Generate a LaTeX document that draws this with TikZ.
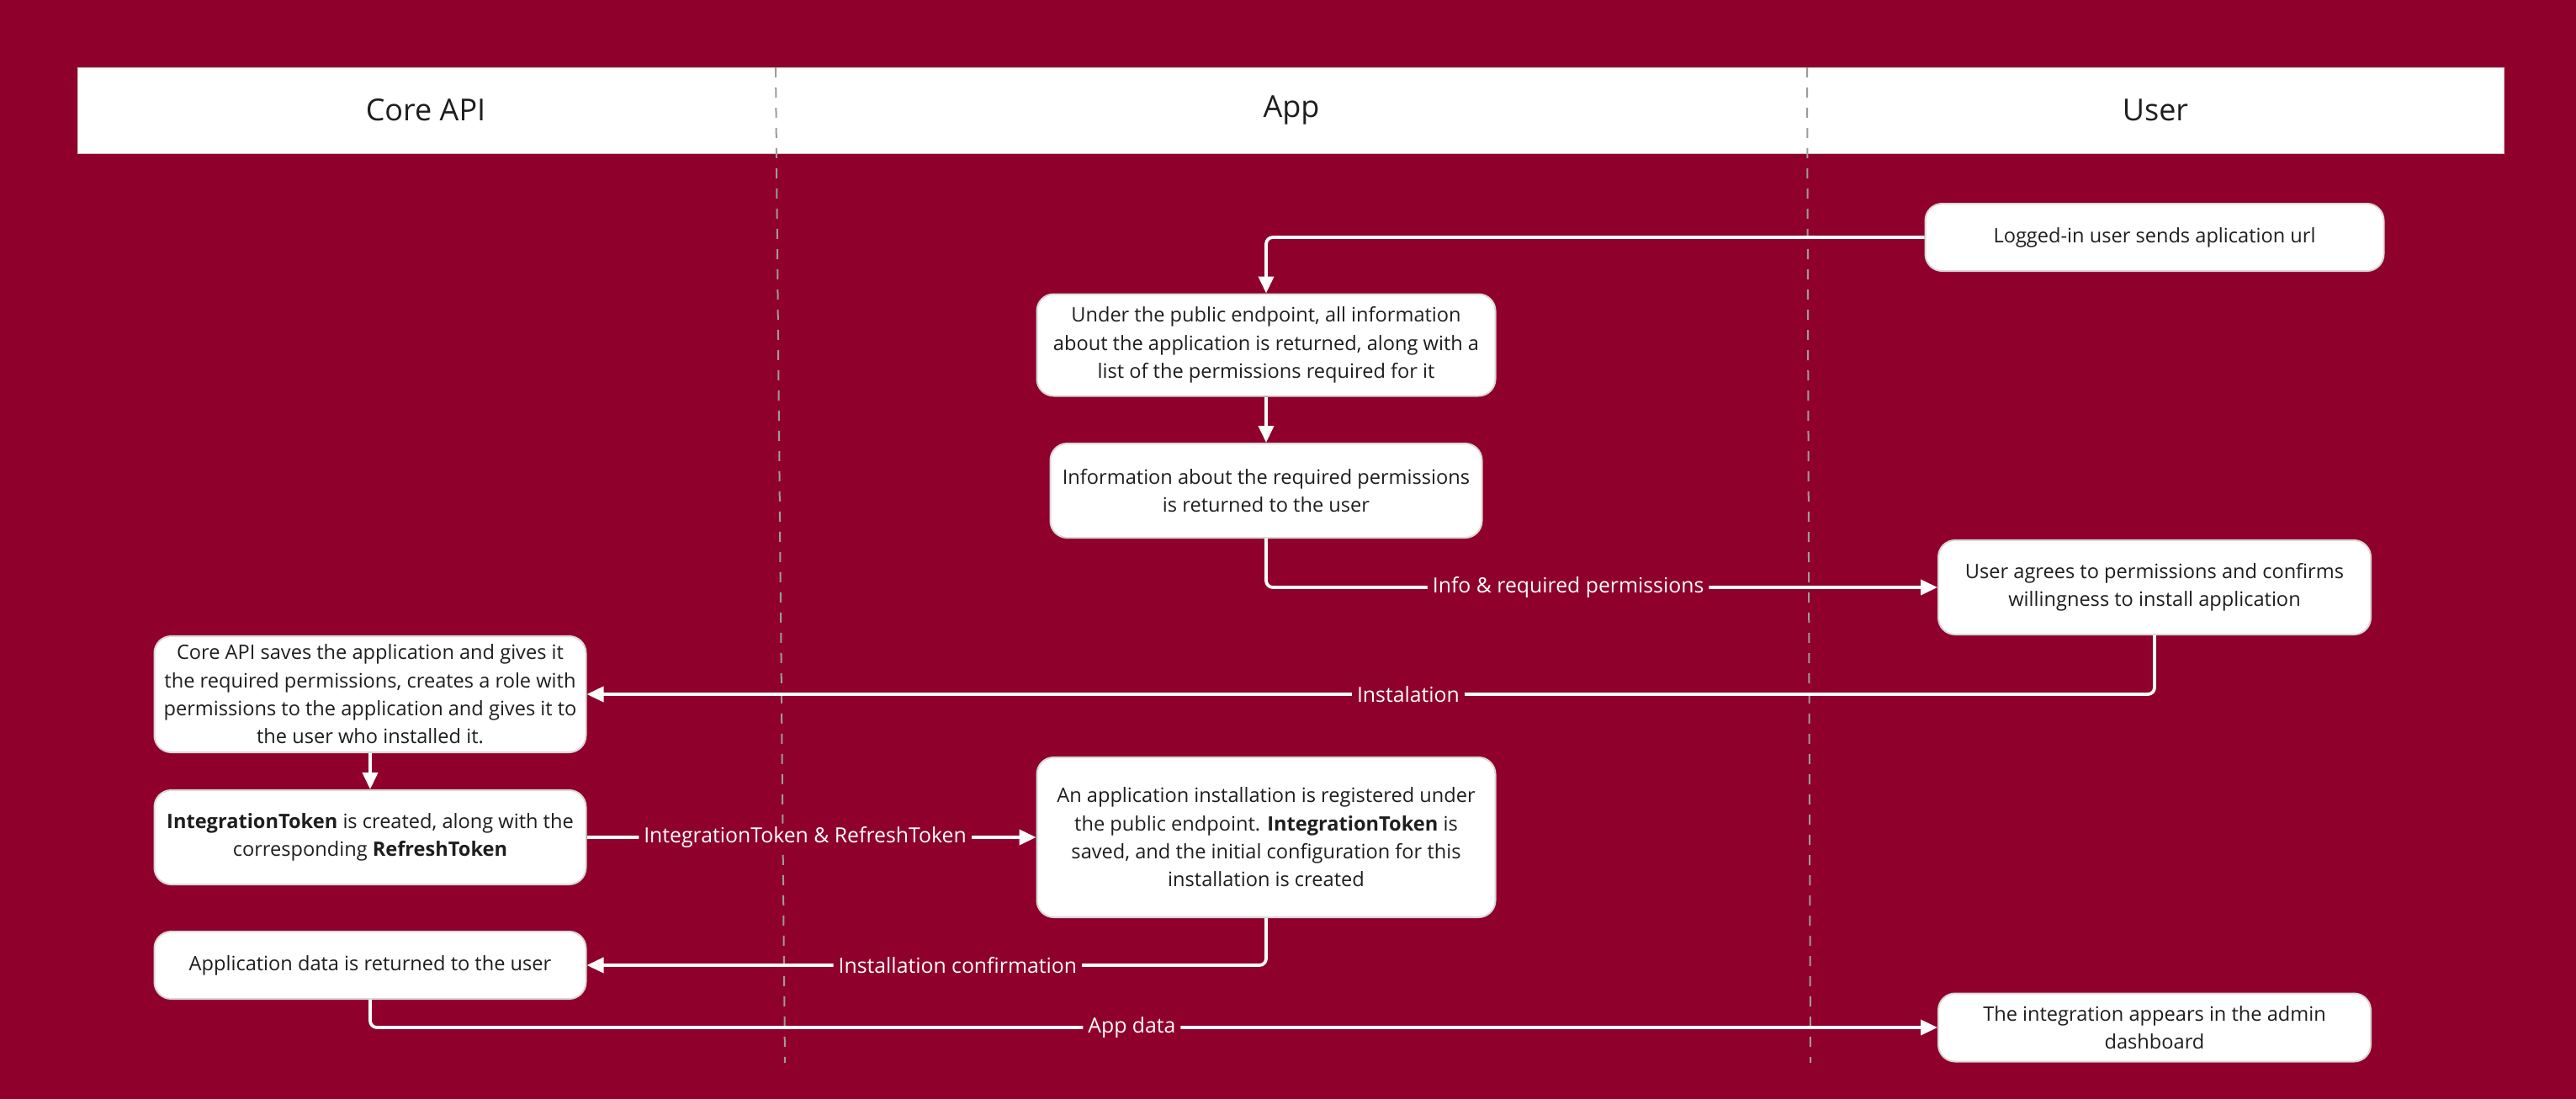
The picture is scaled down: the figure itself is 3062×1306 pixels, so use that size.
\documentclass[tikz,border=0pt]{standalone}
\usepackage{fontspec}
\setmainfont{Open Sans}
\usetikzlibrary{arrows.meta}
\definecolor{bg}{HTML}{8F002D}
\definecolor{txt}{HTML}{1E1E1E}
\definecolor{lanec}{HTML}{9C9C9C}
\newcommand{\boxfont}{\fontsize{11.8}{16.7}\selectfont}
\newcommand{\lblfont}{\fontsize{12.4}{15}\selectfont}
\newcommand{\hdrfont}{\fontsize{18}{22}\selectfont}
\tikzset{
  stepbox/.style={draw=black!15, line width=1pt, fill=white, rounded corners=10pt,
    align=center, font=\boxfont, text=txt, inner sep=0pt},
  arr/.style={draw=white, line width=1.9pt, rounded corners=4pt,
    -{Triangle[length=10pt,width=9pt]}},
  lbl/.style={fill=bg, text=white, font=\lblfont, inner xsep=3pt, inner ysep=2pt},
  lanesep/.style={draw=lanec, line width=1pt, dash pattern=on 6pt off 6pt},
  hdrtext/.style={font=\hdrfont, text=txt},
}
\begin{document}
\begin{tikzpicture}[x=0.5pt,y=-0.5pt]
\useasboundingbox (0,0) rectangle (3062,1306);
\fill[bg] (0,0) rectangle (3062,1306);
% header
\draw[fill=white, draw=black!20, line width=0.5pt] (92,80) rectangle (2976,182);
\node[hdrtext] (h1) at (506,131) {Core API};
\node[hdrtext] (h2) at (1535,131) {App};
\node[hdrtext] (h3) at (2562,131) {User};
% lane separators
\coordinate (s1a) at (922,80); \coordinate (s1b) at (933,1263);
\coordinate (s2a) at (2148,80); \coordinate (s2b) at (2152,1263);
\draw[lanesep] (s1a) -- (s1b);
\draw[lanesep] (s2a) -- (s2b);
% boxes
\node[stepbox, minimum width=272.5pt, minimum height=40pt] (b1) at (2561,282)
  {Logged-in user sends aplication url};
\node[stepbox, minimum width=272.5pt, minimum height=60.5pt] (b2) at (1505,410)
  {Under the public endpoint, all information\\about the application is returned, along with a\\list of the permissions required for it};
\node[stepbox, minimum width=256.5pt, minimum height=56pt] (b3) at (1505,583)
  {Information about the required permissions\\is returned to the user};
\node[stepbox, minimum width=257pt, minimum height=56pt] (b4) at (2561,698)
  {User agrees to permissions and confirms\\willingness to install application};
\node[stepbox, minimum width=256.5pt, minimum height=69pt] (b5) at (440,825)
  {Core API saves the application and gives it\\the required permissions, creates a role with\\permissions to the application and gives it to\\the user who installed it.};
\node[stepbox, minimum width=256.5pt, minimum height=56pt] (b6) at (440,995)
  {\textbf{IntegrationToken} is created, along with the\\corresponding \textbf{RefreshToken}};
\node[stepbox, minimum width=272.5pt, minimum height=95pt] (b7) at (1505,995)
  {An application installation is registered under\\the public endpoint. \textbf{IntegrationToken} is\\saved, and the initial configuration for this\\installation is created};
\node[stepbox, minimum width=256.5pt, minimum height=40pt] (b8) at (440,1147)
  {Application data is returned to the user};
\node[stepbox, minimum width=257pt, minimum height=40.5pt] (b9) at (2561,1221)
  {The integration appears in the admin\\dashboard};
% connectors
\draw[arr] (b1.west) -| (b2.north);
\draw[arr] (b2.south) -- (b3.north);
\draw[arr] (b3.south) |- (b4.west) node[lbl, pos=0.725] {Info \& required permissions};
\draw[arr] (b4.south) |- (b5.east) node[lbl, pos=0.738] {Instalation};
\draw[arr] (b5.south) -- (b6.north);
\draw[arr] (b6.east) -- (b7.west) node[lbl, pos=0.486] {IntegrationToken \& RefreshToken};
\draw[arr] (b7.south) |- (b8.east) node[lbl, pos=0.727] {Installation confirmation};
\draw[arr] (b8.south) |- (b9.west) node[lbl, pos=0.743] {App data};
\end{tikzpicture}
\end{document}
